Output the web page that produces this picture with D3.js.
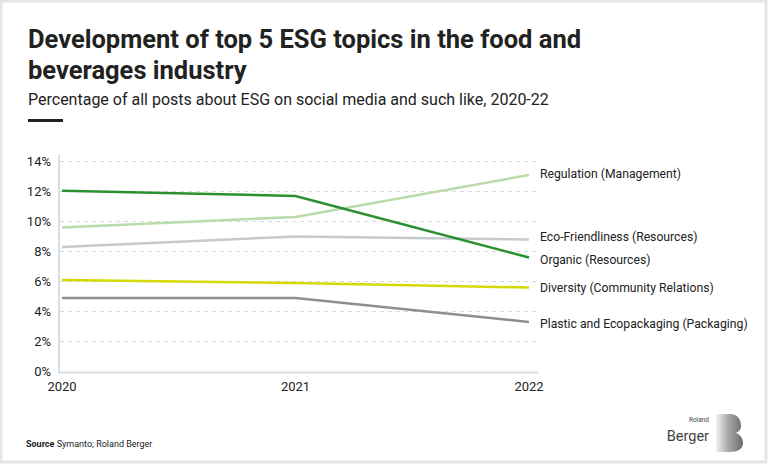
<!DOCTYPE html>
<html lang="en">
<head>
<meta charset="UTF-8">
<title>Top 5 ESG topics - food and beverages</title>
<script src="https://d3js.org/d3.v7.min.js"></script>
<style>
  body { margin: 0; background: #fff; }
  text { font-family: Roboto, "Noto Sans", sans-serif; fill: #222; }
</style>
</head>
<body>
<script>
    const years = [2020, 2021, 2022];
    const topics = ["Regulation (Management)", "Eco-Friendliness (Resources)", "Organic (Resources)",
        "Diversity (Community Relations)", "Plastic and Ecopackaging (Packaging)"];
    const regulation = [9.6, 10.3, 13.1];
    const ecoFriendliness = [8.3, 9.0, 8.8];
    const organic = [12.05, 11.7, 7.6];
    const diversity = [6.1, 5.9, 5.6];
    const plastic = [4.9, 4.9, 3.3];
    const colors = ["#b9dcaa", "#c6c9cd", "#2a9030", "#d2da00", "#8b8e94"];
    const yTicks = [0, 2, 4, 6, 8, 10, 12, 14];
    // label offsets so the end labels do not overlap
    const labelY = [174, 237, 260, 288, 324];

    const series = [regulation, ecoFriendliness, organic, diversity, plastic];

    const W = 768, H = 464;
    const svg = d3.select("body").append("svg").attr("width", W).attr("height", H);

    // frame
    svg.append("rect").attr("x", 1).attr("y", 1).attr("width", W - 3).attr("height", H - 3)
        .attr("fill", "#fff").attr("stroke", "#e4e5e9").attr("stroke-width", 3);

    // headings
    svg.append("text").attr("x", 28).attr("y", 48).text("Development of top 5 ESG topics in the food and")
        .style("font-size", "25.5px").style("font-weight", 700);
    svg.append("text").attr("x", 28).attr("y", 79).text("beverages industry")
        .style("font-size", "25.5px").style("font-weight", 700);
    svg.append("text").attr("x", 28).attr("y", 105).text("Percentage of all posts about ESG on social media and such like, 2020-22")
        .style("font-size", "16px");
    svg.append("rect").attr("x", 28).attr("y", 119).attr("width", 35).attr("height", 3).attr("fill", "#222");

    const x = d3.scaleLinear().domain([2020, 2022]).range([62, 529]);
    const y = d3.scaleLinear().domain([0, 14]).range([371.5, 161.5]);

    // grid
    svg.append("g").selectAll("line").data(yTicks.filter(d => d > 0)).join("line")
        .attr("x1", 60).attr("x2", 538)
        .attr("y1", d => y(d)).attr("y2", d => y(d))
        .attr("stroke", "#d9d9d9").attr("stroke-dasharray", "4,4");

    // axes lines
    svg.append("line").attr("x1", 59).attr("x2", 59).attr("y1", 155).attr("y2", y(0) + 1)
        .attr("stroke", "#dcdde0").attr("stroke-width", 2);
    svg.append("line").attr("x1", 58).attr("x2", 538).attr("y1", y(0) + 1).attr("y2", y(0) + 1)
        .attr("stroke", "#dcdde0").attr("stroke-width", 2);

    // y labels
    svg.append("g").selectAll("text").data(yTicks).join("text")
        .attr("x", 51).attr("y", d => y(d)).attr("dy", "0.35em")
        .attr("text-anchor", "end").style("font-size", "13px")
        .text(d => d + "%");

    // x labels
    svg.append("g").selectAll("text").data(years).join("text")
        .attr("x", d => x(d)).attr("y", 391).attr("text-anchor", "middle")
        .style("font-size", "13px").text(d => d);

    const line = d3.line().x((d, i) => x(years[i])).y(d => y(d));

    // draw gray ones first so greens sit on top
    const order = [1, 4, 3, 0, 2];
    svg.append("g").selectAll("path").data(order).join("path")
        .attr("d", i => line(series[i]))
        .attr("fill", "none").attr("stroke", i => colors[i]).attr("stroke-width", 2.5);

    svg.append("g").selectAll("text").data(topics).join("text")
        .attr("x", 540).attr("y", (d, i) => labelY[i]).attr("dy", "0.35em")
        .style("font-size", "12.2px").text(d => d);

    // footer
    const src = svg.append("text").attr("x", 26).attr("y", 447).style("font-size", "9px");
    src.append("tspan").style("font-weight", 700).text("Source");
    src.append("tspan").text(" Symanto; Roland Berger");

    // logo
    svg.append("text").attr("x", 709).attr("y", 422).attr("text-anchor", "end")
        .style("font-size", "6.5px").style("fill", "#444").text("Roland");
    svg.append("text").attr("x", 709).attr("y", 441).attr("text-anchor", "end")
        .style("font-size", "14.5px").style("fill", "#444").text("Berger");
    const grad = svg.append("defs").append("linearGradient").attr("id", "bgrad")
        .attr("x1", "0").attr("x2", "1").attr("y1", "0").attr("y2", "0");
    grad.append("stop").attr("offset", "0").attr("stop-color", "#f2f2f2");
    grad.append("stop").attr("offset", "0.45").attr("stop-color", "#a9a9a9");
    grad.append("stop").attr("offset", "1").attr("stop-color", "#6c6c6c");
    svg.append("path")
        .attr("d", "M716,414 L730,414 C738,414 741,420 741,426 C741,430 738,432 736,433 C739,434 743,437 743,443 C743,449 738,452 730,452 L716,452 Z")
        .attr("fill", "url(#bgrad)");
</script>
</body>
</html>
